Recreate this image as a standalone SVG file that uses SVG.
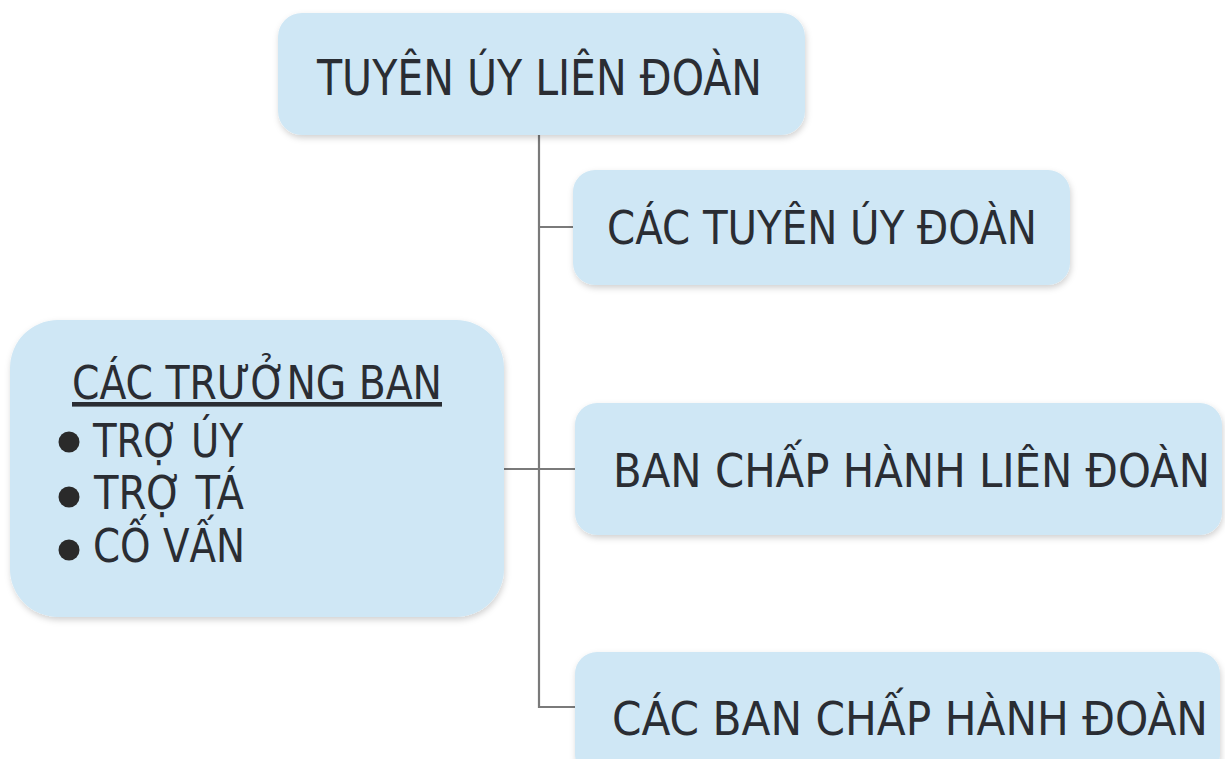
<svg xmlns="http://www.w3.org/2000/svg" width="1225" height="759" viewBox="0 0 1225 759">
<defs>
<filter id="sh" x="-10%" y="-10%" width="120%" height="130%">
<feDropShadow dx="1" dy="3" stdDeviation="3" flood-color="#000" flood-opacity="0.18"/>
</filter>
</defs>
<style>
.box{fill:#cfe7f5;filter:url(#sh)}
.t{font-family:"DejaVu Sans Condensed","DejaVu Sans",sans-serif;fill:#2a2d33;font-size:46px}
.c{fill:none;stroke:#7a7a7a;stroke-width:2.2}
</style>
<rect width="1225" height="759" fill="#fff"/>
<g id="connectors">
<path class="c" d="M539,135 V707 H575"/>
<path class="c" d="M539,227 H573"/>
<path class="c" d="M504,469 H575"/>
</g>
<g id="n-top">
<rect class="box" x="278" y="13" width="527" height="122" rx="24"/>
<text class="t" x="317" y="95" style="font-size:50px" textLength="445" lengthAdjust="spacingAndGlyphs">TUYÊN ÚY LIÊN ĐOÀN</text>
</g>
<g id="n-tuyenuy-doan">
<rect class="box" x="573" y="170" width="497" height="115" rx="22"/>
<text class="t" x="607" y="244" textLength="430" lengthAdjust="spacingAndGlyphs">CÁC TUYÊN ÚY ĐOÀN</text>
</g>
<g id="n-bch-lien-doan">
<rect class="box" x="575" y="403" width="647" height="132" rx="22"/>
<text class="t" x="613" y="487" textLength="597" lengthAdjust="spacingAndGlyphs">BAN CHẤP HÀNH LIÊN ĐOÀN</text>
</g>
<g id="n-bch-doan">
<rect class="box" x="575" y="652" width="645" height="125" rx="22"/>
<text class="t" x="612" y="735" textLength="596" lengthAdjust="spacingAndGlyphs">CÁC BAN CHẤP HÀNH ĐOÀN</text>
</g>
<g id="n-truong-ban">
<rect class="box" x="10" y="320" width="494" height="297" rx="48"/>
<text class="t" x="72" y="399" textLength="370" lengthAdjust="spacingAndGlyphs" text-decoration="underline">CÁC TRƯỞNG BAN</text>
<circle cx="69" cy="442" r="10.5" fill="#2a2a2a"/>
<circle cx="69" cy="497" r="10.5" fill="#2a2a2a"/>
<circle cx="69" cy="550" r="10.5" fill="#2a2a2a"/>
<text class="t" x="93" y="457" textLength="150" lengthAdjust="spacingAndGlyphs">TRỢ ÚY</text>
<text class="t" x="94" y="509" textLength="150" lengthAdjust="spacingAndGlyphs">TRỢ TÁ</text>
<text class="t" x="93" y="562" textLength="152" lengthAdjust="spacingAndGlyphs">CỐ VẤN</text>
</g>
</svg>
